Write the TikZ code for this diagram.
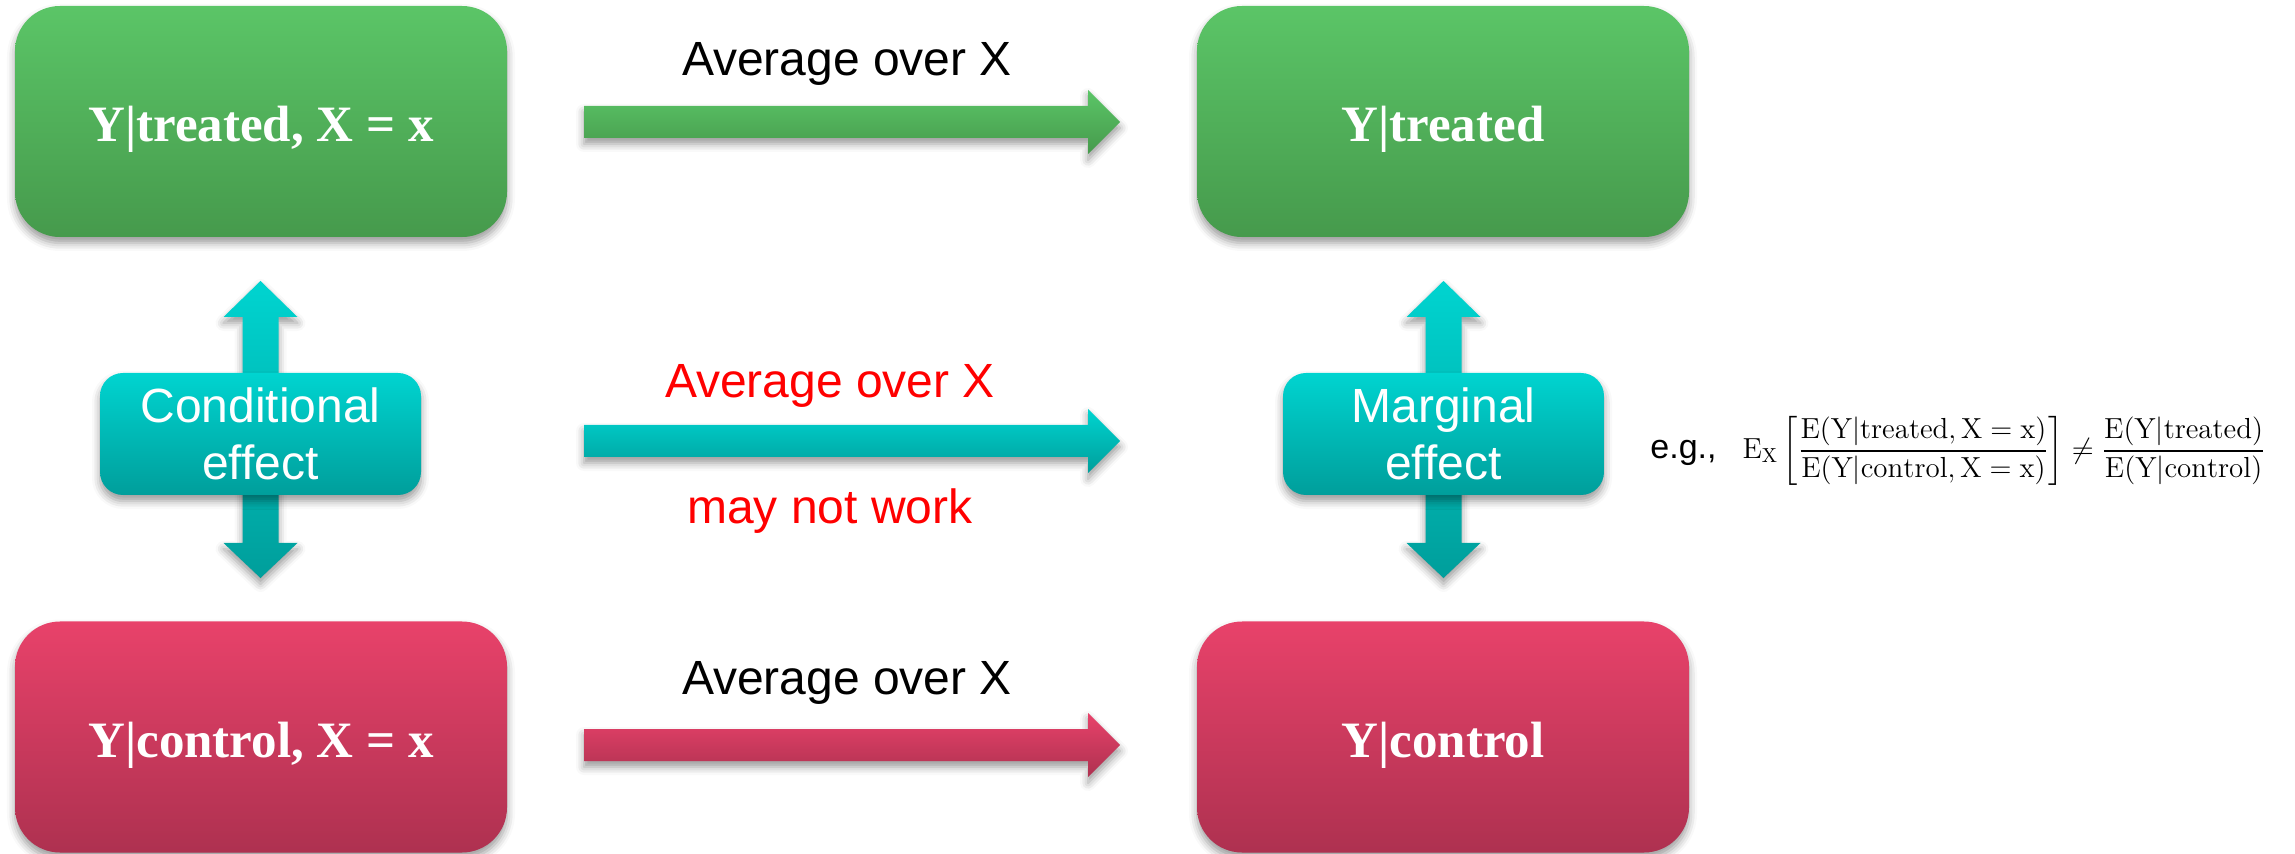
\documentclass[tikz,border=0pt]{standalone}
\usepackage{amsmath}
\usepackage{fontspec}
\newfontfamily\arialf{Liberation Sans}
\newfontfamily\timesf{Liberation Serif}
\usetikzlibrary{shadows.blur,backgrounds}
\definecolor{gtop}{HTML}{5BC567}
\definecolor{gbot}{HTML}{469A4C}
\definecolor{rtop}{HTML}{E8426A}
\definecolor{rbot}{HTML}{AE3150}
\definecolor{ttop}{HTML}{00D4D0}
\definecolor{tbot}{HTML}{009E9B}
\definecolor{redtxt}{HTML}{FF0000}
\newcommand{\hArrowShape}[3]{%
  \shade[shad, top color=#2, bottom color=#3]
    (584,#1-16) -- (1088,#1-16) -- (1088,#1-32) -- (1120,#1) -- (1088,#1+32)
    -- (1088,#1+16) -- (584,#1+16) -- cycle;}
\begin{document}
\begin{tikzpicture}[x=0.5pt,y=-0.5pt,
  shad/.style={blur shadow={shadow xshift=0pt,shadow yshift=-3pt,shadow blur radius=4pt,shadow opacity=40}},
  bigbox/.style={shad, rounded corners=22.5pt, minimum width=246pt, minimum height=115.5pt,
    inner sep=0pt, text height=20.5pt, text depth=0pt, text=white,
    font=\timesf\bfseries\fontsize{25.5}{30}\selectfont},
  greenbox/.style={bigbox, top color=gtop, bottom color=gbot},
  redbox/.style={bigbox, top color=rtop, bottom color=rbot},
  effbox/.style={shad, rounded corners=11.5pt, minimum width=160.5pt, minimum height=61pt,
    inner sep=0pt, top color=ttop, bottom color=tbot, text=white, align=center,
    font=\arialf\fontsize{24}{28.5}\selectfont},
  lbl/.style={anchor=base, inner sep=0pt, font=\arialf\fontsize{24}{28.8}\selectfont},
]
\useasboundingbox (0,0) rectangle (2295,854);

% horizontal arrows
\hArrowShape{122}{gtop}{gbot}
\hArrowShape{441}{ttop}{tbot}
\hArrowShape{745}{rtop}{rbot}

% boxes
\node[greenbox] (tl) at (261,121.5) {Y|treated, X = x};
\node[greenbox] (tr) at (1443,121.5) {Y|treated};
\node[redbox] (bl) at (261,737) {Y|control, X = x};
\node[redbox] (br) at (1443,737) {Y|control};

\node[effbox] (cond) at (260.5,434) {Conditional\\effect};
\node[effbox] (marg) at (1443.5,434) {Marginal\\effect};

% vertical double arrows behind effect boxes
\begin{scope}[on background layer]
\foreach \n in {cond,marg}{
  \shade[shad, top color=ttop, bottom color=tbot, shift={(\n.center)}]
    (0,-153) -- (37,-117) -- (18,-117) -- (18,109) -- (37,109) -- (0,144)
    -- (-37,109) -- (-18,109) -- (-18,-117) -- (-37,-117) -- cycle;
}
\end{scope}

% labels
\node[lbl] (avg1) at (847,76) {Average over X};
\node[lbl, text=redtxt] (avg2) at (830,398) {Average over X};
\node[lbl, text=redtxt] (mnw) at (830,524) {may not work};
\node[lbl] (avg3) at (847,694) {Average over X};

% formula
\node[anchor=west, inner sep=0pt] (eg) at (1650,451) {\arialf\fontsize{17}{20}\selectfont e.g.,\hspace{13pt}\fontsize{14.5}{17.5}\selectfont
$\mathrm{E}_{\mathrm{X}}\left[\dfrac{\mathrm{E}(\mathrm{Y}|\mathrm{treated},\mathrm{X}=\mathrm{x})}{\mathrm{E}(\mathrm{Y}|\mathrm{control},\mathrm{X}=\mathrm{x})}\right]\neq\dfrac{\mathrm{E}(\mathrm{Y}|\mathrm{treated})}{\mathrm{E}(\mathrm{Y}|\mathrm{control})}$};
\end{tikzpicture}
\end{document}
